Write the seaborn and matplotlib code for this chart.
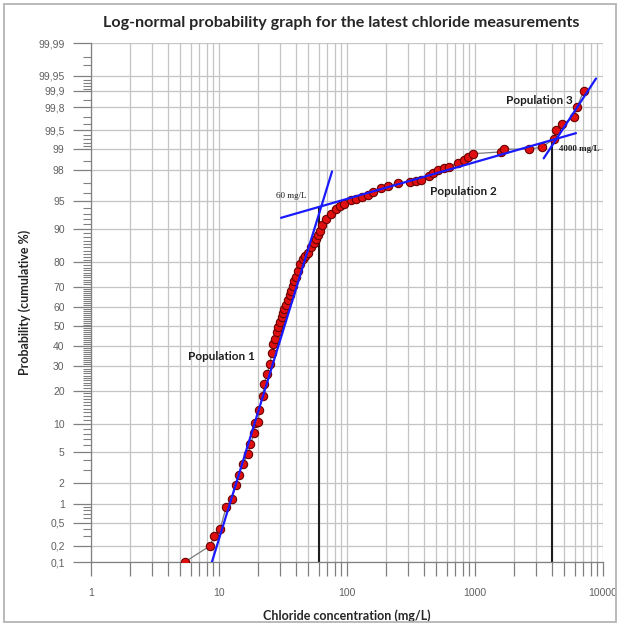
import numpy as np
import pandas as pd
import matplotlib
matplotlib.use("Agg")
import matplotlib.pyplot as plt
import seaborn as sns
from statistics import NormalDist
from matplotlib.patches import Rectangle
from matplotlib.ticker import FixedLocator, FixedFormatter, NullFormatter

# Chloride concentrations (mg/L) and their cumulative probability (%)
chloride = [5.4, 8.5, 9.2, 10.2, 11.4, 12.6, 13.6, 14.3, 15.4, 16.9,
            17.6, 18.9, 19.0, 20.3, 20.6, 21.9, 22.6, 23.7, 25.0, 25.8,
            26.6, 27.5, 28.4, 29.1, 30.0, 30.9, 31.8, 32.4, 33.4, 34.4,
            35.6, 36.5, 37.8, 38.7, 40.0, 41.7, 43.2, 45.1, 47.0, 49.3,
            52.3, 54.9, 57.3, 59.7, 61.0, 63.4, 68.5, 75.0, 82.0, 88.7,
            95.3, 107, 117, 130, 145, 159, 184, 210, 249, 312,
            346, 378, 440, 467, 511, 576, 630, 732, 825, 877,
            970, 1596, 1694, 2656, 3319, 4120, 4295, 4757, 5970, 6266,
            7060]
cum_pct = [0.1, 0.2, 0.3, 0.4, 0.9, 1.2, 1.9, 2.6, 3.6, 4.7,
           6.2, 8.1, 10.3, 10.5, 13.8, 18.1, 22.6, 26.5, 31.2, 36.5,
           41.0, 43.6, 47.0, 49.6, 52.2, 54.8, 57.1, 59.1, 61.3, 63.8,
           66.2, 68.1, 70.4, 72.3, 74.0, 76.8, 79.4, 81.2, 82.3, 83.4,
           85.0, 86.2, 87.4, 88.6, 89.6, 90.9, 92.1, 93.0, 93.8, 94.3,
           94.6, 95.1, 95.3, 95.5, 95.8, 96.1, 96.5, 96.7, 97.0, 97.1,
           97.2, 97.3, 97.6, 97.8, 98.0, 98.1, 98.2, 98.4, 98.55, 98.7,
           98.83, 98.9, 99.0, 99.0, 99.07, 99.3, 99.5, 99.6, 99.7, 99.8,
           99.9]

# Straight-line fits for the three populations (end points)
pop1_x = [8.8, 76.4]
pop1_p = [0.1, 97.9]
pop2_x = [30.5, 6150]
pop2_p = [92.3, 99.44]
pop3_x = [3440, 8820]
pop3_p = [98.63, 99.943]

# Population thresholds
threshold_x = [60, 4000]
threshold_top = [94.0, 99.25]

y_ticks = [0.1, 0.2, 0.5, 1, 2, 5, 10, 20, 30, 40, 50, 60, 70, 80, 90,
           95, 98, 99, 99.5, 99.8, 99.9, 99.95, 99.99]
y_tick_labels = [f"{v:g}".replace(".", ",") for v in y_ticks]
y_minor = ([0.3, 0.4, 0.6, 0.7, 0.8, 0.9, 3, 4, 6, 7, 8, 9]
           + list(range(11, 90))
           + [91, 92, 93, 94, 96, 97, 98.5, 99.1, 99.2, 99.3, 99.4,
              99.6, 99.7, 99.85, 99.91, 99.92, 99.93, 99.94, 99.97, 99.98])
x_ticks = [1, 10, 100, 1000, 10000]
x_tick_labels = ["1", "10", "100", "1000", "10000"]

sns.set_style("white")
plt.rcParams["font.family"] = ["Liberation Sans", "DejaVu Sans"]

fig = plt.figure(figsize=(6.2, 6.26), dpi=100)
ax = fig.add_axes([0.1468, 0.1022, 0.8258, 0.8291])

df = pd.DataFrame({"chloride": chloride, "pct": cum_pct})

# grey connecting line through the measurements, then the points
sns.lineplot(data=df, x="chloride", y="pct", sort=False, estimator=None,
             color="#7a7a7a", linewidth=0.9, ax=ax, zorder=3)

for xs, ps in [(pop1_x, pop1_p), (pop2_x, pop2_p), (pop3_x, pop3_p)]:
    sns.lineplot(x=xs, y=ps, sort=False, estimator=None, color="#1a1aff",
                 linewidth=1.6, ax=ax, zorder=5)

for xv, top in zip(threshold_x, threshold_top):
    ax.plot([xv, xv], [0.1, top], color="#1e1e1e", linewidth=1.5, zorder=2)

sns.scatterplot(data=df, x="chloride", y="pct", s=36, color="#e01010",
                edgecolor="#6a0000", linewidth=0.8, ax=ax, zorder=4)

# probability (normal quantile) scale for the y axis
_nd = NormalDist()
_inv_cdf = np.vectorize(_nd.inv_cdf, otypes=[float])
_cdf = np.vectorize(_nd.cdf, otypes=[float])


def _forward(p):
    p = np.clip(np.asarray(p, dtype=float) / 100.0, 1e-9, 1 - 1e-9)
    return _inv_cdf(p)


def _inverse(z):
    return _cdf(np.asarray(z, dtype=float)) * 100.0


ax.set_xscale("log")
ax.set_yscale("function", functions=(_forward, _inverse))
ax.set_xlim(1, 10000)
ax.set_ylim(0.1, 99.99)

ax.yaxis.set_major_locator(FixedLocator(y_ticks))
ax.yaxis.set_major_formatter(FixedFormatter(y_tick_labels))
ax.yaxis.set_minor_locator(FixedLocator(y_minor))
ax.yaxis.set_minor_formatter(NullFormatter())
ax.xaxis.set_major_locator(FixedLocator(x_ticks))
ax.xaxis.set_major_formatter(FixedFormatter(x_tick_labels))
x_minor = [m * 10 ** d for d in range(4) for m in range(2, 10)]
ax.xaxis.set_minor_locator(FixedLocator(x_minor))
ax.xaxis.set_minor_formatter(NullFormatter())

grid_kw = dict(color="#c4c4c4", linewidth=0.9, zorder=0)
ax.grid(True, which="both", axis="x", **grid_kw)
ax.grid(True, which="major", axis="y", **grid_kw)
ax.set_axisbelow(True)

ax.tick_params(axis="y", which="both", left=True)
ax.tick_params(axis="x", which="both", bottom=True)
ax.tick_params(axis="y", which="major", direction="out", length=13,
               width=0.9, color="#808080", labelsize=7.5,
               labelcolor="#606060", pad=6)
ax.tick_params(axis="y", which="minor", direction="out", length=6,
               width=0.8, color="#808080")
ax.tick_params(axis="x", which="both", direction="out", length=10,
               width=0.9, color="#808080", labelsize=7.5,
               labelcolor="#606060", pad=9)

for side in ["left", "bottom"]:
    ax.spines[side].set_color("#808080")
    ax.spines[side].set_linewidth(0.9)
for side in ["top", "right"]:
    ax.spines[side].set_visible(False)

ax.set_xlabel("Chloride concentration (mg/L)", fontsize=9,
              fontweight="bold", family=["Lato", "DejaVu Sans"], labelpad=8)
ax.set_ylabel("Probability (cumulative %)", fontsize=9,
              fontweight="bold", family=["Lato", "DejaVu Sans"], labelpad=5)

fig.text(0.55, 0.963, "Log-normal probability graph for the latest chloride measurements",
         ha="center", va="center", fontsize=11.6, fontweight="bold",
         family=["Lato", "DejaVu Sans"])

pop_kw = dict(fontsize=8.5, fontweight="bold", color="#1e1e1e",
              family=["Lato", "DejaVu Sans"], ha="center", va="center",
              zorder=6)
ax.text(10.4, 34.7, "Population 1", **pop_kw)
ax.text(806, 96.2, "Population 2", **pop_kw)
ax.text(3162, 99.85, "Population 3", **pop_kw)

ax.text(36.5, 95.7, "60 mg/L", fontsize=6.5, family=["Liberation Serif"],
        ha="center", va="center", color="#1e1e1e", zorder=6)
ax.text(4530, 99.0, "4000 mg/L", fontsize=6.5, fontweight="bold",
        family=["Liberation Serif"], ha="left", va="center",
        color="#1e1e1e", zorder=6)

# light frame around the whole figure
fig.patches.append(Rectangle((0.007, 0.006), 0.986, 0.988,
                             transform=fig.transFigure, fill=False,
                             edgecolor="#b4b4b4", linewidth=1.3))

fig.savefig("out.png", dpi=100)
